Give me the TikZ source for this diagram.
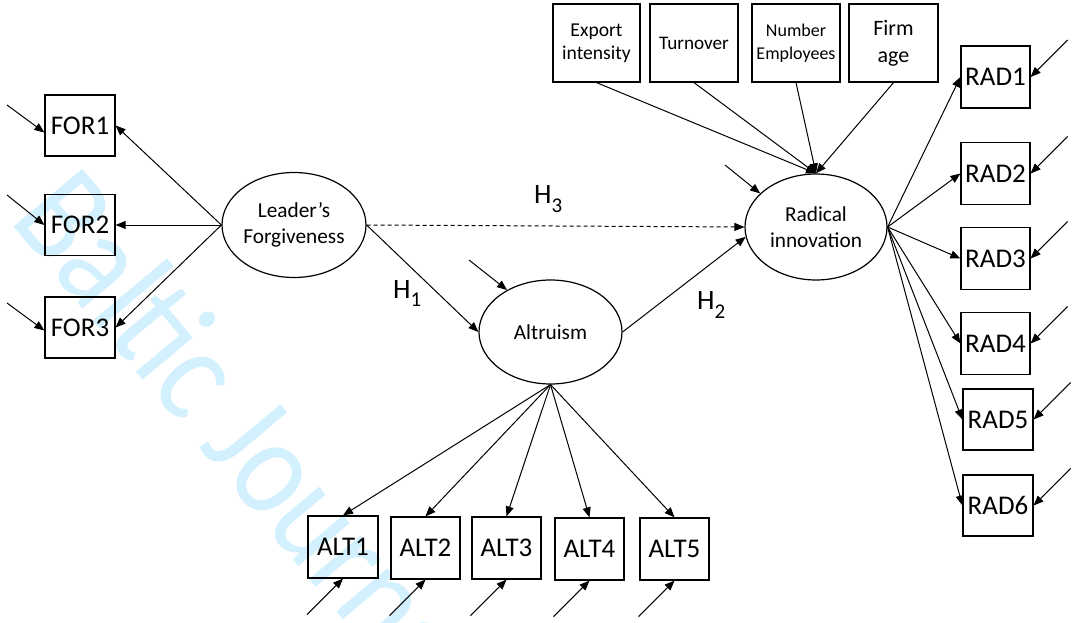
\documentclass[tikz,border=0pt]{standalone}
\usepackage{fontspec}
\setmainfont{Carlito}
\usetikzlibrary{arrows.meta,calc,shapes.geometric}
\definecolor{wmcol}{RGB}{210,240,253}
\begin{document}
\begin{tikzpicture}[x=1pt,y=-1pt,
  obs/.style={draw,line width=1.2pt,minimum width=70pt,minimum height=61pt,inner sep=0pt,font=\fontsize{27}{30}\selectfont},
  ctl/.style={draw,line width=1.2pt,minimum width=88pt,minimum height=78pt,inner sep=0pt,align=center},
  lat/.style={draw,ellipse,line width=1.2pt,inner sep=0pt,align=center,font=\fontsize{21.3}{26}\selectfont},
  arr/.style={line width=1pt,-{Triangle[length=10pt,width=8pt]}},
  hlab/.style={font=\fontsize{28}{30}\selectfont,inner sep=0pt,anchor=base west},
  wmark/.style={text=wmcol,font=\fontsize{140}{150}\selectfont,inner sep=0pt,anchor=base west,rotate=-50}]
\useasboundingbox (0,0) rectangle (1077,623);
\begin{scope}
\clip (0,0) rectangle (1077,623);
\node[wmark] (wm) at (8,220) {\scalebox{0.86}[1]{Baltic Journal}};
\end{scope}

% latent variables
\node[lat,minimum width=144pt,minimum height=105pt] (LF) at (294,225) {Leader’s\\Forgiveness};
\node[lat,minimum width=143pt,minimum height=104pt] (AL) at (550.5,332) {Altruism};
\node[lat,minimum width=142pt,minimum height=106pt] (RI) at (816,227) {Radical\\innovation};

% FOR indicators
\node[obs] (FOR1) at (80,125.5) {FOR1};
\node[obs] (FOR2) at (80,225) {FOR2};
\node[obs] (FOR3) at (80,327.5) {FOR3};

% ALT indicators
\node[obs,minimum height=62pt] (ALT1) at (343,547) {ALT1};
\node[obs,minimum height=62pt,minimum width=69pt] (ALT2) at (425.5,548) {ALT2};
\node[obs,minimum height=62pt,minimum width=69pt] (ALT3) at (506.5,548) {ALT3};
\node[obs,minimum height=62pt,minimum width=69pt] (ALT4) at (589.5,549) {ALT4};
\node[obs,minimum height=62pt,minimum width=69pt] (ALT5) at (674.5,549) {ALT5};

% RAD indicators
\node[obs,minimum width=69pt,minimum height=62pt] (RAD1) at (995.5,77) {RAD1};
\node[obs,minimum width=69pt,minimum height=62pt] (RAD2) at (995.5,173.5) {RAD2};
\node[obs,minimum width=69pt,minimum height=62pt] (RAD3) at (995.5,258.5) {RAD3};
\node[obs,minimum width=69pt,minimum height=62pt] (RAD4) at (995.5,343.5) {RAD4};
\node[obs] (RAD5) at (998,419.5) {RAD5};
\node[obs] (RAD6) at (998,505.5) {RAD6};

% control variables
\node[ctl,minimum width=87pt,font=\fontsize{19.6}{23}\selectfont] (EXP) at (596.5,43) {Export\\intensity};
\node[ctl,font=\fontsize{19.2}{23}\selectfont] (TUR) at (694,43) {Turnover};
\node[ctl,font=\fontsize{18}{22.7}\selectfont] (NUM) at (796,43) {Number\\Employees};
\node[ctl,minimum width=89pt,font=\fontsize{22}{27}\selectfont] (AGE) at (893.5,43) {Firm\\age};

% hypothesis labels
\node[hlab] (H1) at (393,298) {H\raisebox{-9pt}{\fontsize{21}{21}\selectfont 1}};
\node[hlab] (H2) at (697,309) {H\raisebox{-9pt}{\fontsize{21}{21}\selectfont 2}};
\node[hlab] (H3) at (534,204) {H\raisebox{-9pt}{\fontsize{21}{21}\selectfont 3}};

% free ends of error arrows
\coordinate (eF1) at (7,105);
\coordinate (eF2) at (7,195);
\coordinate (eF3) at (7,303);
\coordinate (eAL) at (469,260);
\coordinate (eRI) at (725,165);
\foreach \i in {1,...,6} {\coordinate (eR\i) at ($(RAD\i.east)+(37,-37)$);}
\foreach \i in {1,...,5} {\coordinate (eA\i) at ($(ALT\i.south)+(-36,36)$);}

% loadings
\draw[arr] (LF.west) -- (FOR1.east);
\draw[arr] (LF.west) -- (FOR2.east);
\draw[arr] (LF.west) -- (FOR3.east);
\foreach \i in {1,...,5} {\draw[arr] (AL.south) -- (ALT\i.north);}
\foreach \i in {1,...,6} {\draw[arr] (RI.east) -- (RAD\i.west);}

% structural paths
\draw[arr] (LF.east) -- (AL.west);
\draw[arr] (AL.east) -- (RI.188);
\draw[arr,dashed,dash pattern=on 4pt off 3pt] (LF.east) -- (RI.west);

% controls
\draw[arr] (EXP.south) -- (RI.north);
\draw[arr] (TUR.south) -- (RI.north);
\draw[arr] (NUM.south) -- (RI.north);
\draw[arr] (AGE.south) -- (RI.north);

% errors
\draw[arr] (eF1) -- ($(FOR1.west)+(0,7)$);
\draw[arr] (eF2) -- (FOR2.west);
\draw[arr] (eF3) -- ($(FOR3.west)+(0,3)$);
\draw[arr] (eAL) -- (AL.136);
\draw[arr] (eRI) -- (RI.149);
\foreach \i in {1,...,6} {\draw[arr] (eR\i) -- (RAD\i.east);}
\foreach \i in {1,...,5} {\draw[arr] (eA\i) -- (ALT\i.south);}
\end{tikzpicture}
\end{document}
